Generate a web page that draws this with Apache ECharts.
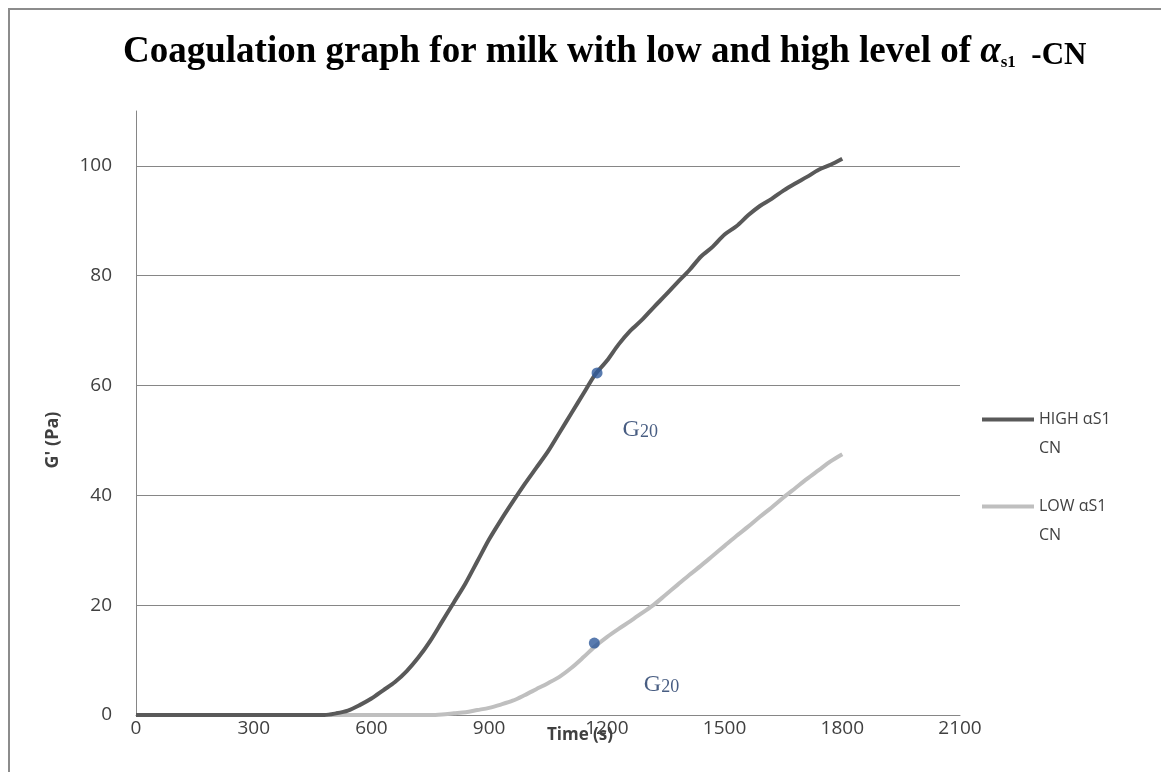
<!DOCTYPE html>
<html>
<head>
<meta charset="utf-8">
<title>Coagulation graph</title>
<script src="https://cdn.jsdelivr.net/npm/echarts@6/dist/echarts.min.js"></script>
<style>
  html, body { margin: 0; padding: 0; background: #ffffff; }
  #chart { width: 1161px; height: 772px; }
</style>
</head>
<body>
<div id="chart"></div>
<script>
// Time axis (s), sampled every 30 s
const timeSec = [
  0, 30, 60, 90, 120, 150, 180, 210, 240, 270, 300, 330, 360, 390, 420, 450, 480,
  510, 540, 570, 600, 630, 660, 690, 720, 750, 780, 810, 840, 870, 900, 930, 960, 990,
  1020, 1050, 1080, 1110, 1140, 1170, 1200, 1230, 1260, 1290, 1320, 1350, 1380, 1410,
  1440, 1470, 1500, 1530, 1560, 1590, 1620, 1650, 1680, 1710, 1740, 1770, 1800
];

// Storage modulus G' (Pa), milk with high αS1-CN
const highG = [
  0, 0, 0, 0, 0, 0, 0, 0, 0, 0, 0, 0, 0, 0, 0, 0, 0,
  0.3, 0.8, 1.8, 3.0, 4.5, 6.0, 8.0, 10.5, 13.5, 17.0, 20.5, 24.0, 28.0, 32.0, 35.5, 38.8, 42.0,
  45.0, 48.0, 51.5, 55.0, 58.5, 62.0, 64.5, 67.5, 70.0, 72.0, 74.3, 76.5, 78.8, 81.0,
  83.5, 85.3, 87.5, 89.0, 91.0, 92.7, 94.0, 95.5, 96.8, 98.0, 99.3, 100.2, 101.3
];

// Storage modulus G' (Pa), milk with low αS1-CN
const lowG = [
  0, 0, 0, 0, 0, 0, 0, 0, 0, 0, 0, 0, 0, 0, 0, 0, 0,
  0, 0, 0, 0, 0, 0, 0, 0, 0, 0.1, 0.3, 0.5, 0.9, 1.3, 1.9, 2.6, 3.6,
  4.7, 5.8, 7.0, 8.6, 10.5, 12.5, 14.2, 15.7, 17.1, 18.6, 20.1, 21.9, 23.7, 25.5,
  27.2, 29.0, 30.8, 32.6, 34.3, 36.1, 37.8, 39.6, 41.3, 43.0, 44.6, 46.2, 47.5
];

// G20 markers: [time (s), G' (Pa)]
const g20High = [1175, 62.3];
const g20Low = [1168, 13.1];

const seriesNames = ['HIGH αS1\nCN', 'LOW αS1\nCN'];
const xTicks = { min: 0, max: 2100, interval: 300 };
const yTicks = { min: 0, max: 110, interval: 20 };

const pair = (xs, ys) => xs.map((x, i) => [x, ys[i]]);

const sansFont = '"Open Sans", "Liberation Sans", sans-serif';
const serifFont = '"Liberation Serif", "DejaVu Serif", serif';

const g20Label = (pos) => ({
  show: true,
  position: pos,
  formatter: '{g|G}{s|20}',
  rich: {
    g: { fontFamily: serifFont, fontSize: 24, color: '#1a3563', lineHeight: 36, verticalAlign: 'bottom' },
    s: { fontFamily: serifFont, fontSize: 18, color: '#1a3563', lineHeight: 17, verticalAlign: 'bottom' }
  }
});

const chart = echarts.init(document.getElementById('chart'), null, { renderer: 'canvas' });

chart.setOption({
  backgroundColor: '#ffffff',
  animation: false,
  title: {
    left: 118,
    top: 22,
    text: '{m|Coagulation graph for milk with low and high level of }{a|α}{s|s1}{c|  -CN}',
    textStyle: {
      rich: {
        m: { fontFamily: serifFont, fontWeight: 'bold', fontSize: 37, color: '#000', lineHeight: 44, verticalAlign: 'bottom' },
        a: { fontFamily: serifFont, fontWeight: 'bold', fontStyle: 'italic', fontSize: 37, color: '#000', lineHeight: 44, verticalAlign: 'bottom' },
        s: { fontFamily: serifFont, fontSize: 17, color: '#000', lineHeight: 30, verticalAlign: 'bottom' },
        c: { fontFamily: serifFont, fontWeight: 'bold', fontSize: 31, color: '#000', lineHeight: 26, verticalAlign: 'bottom' }
      }
    }
  },
  graphic: [{
    type: 'rect',
    silent: true,
    shape: { x: 9, y: 9, width: 1300, height: 900 },
    style: { fill: null, stroke: '#8c8c8c', lineWidth: 2 }
  }],
  legend: {
    orient: 'vertical',
    left: 977,
    top: 371,
    itemWidth: 52,
    itemHeight: 4,
    itemGap: 0,
    icon: 'rect',
    data: seriesNames,
    formatter: (name) => '\n' + name,
    textStyle: {
      fontFamily: sansFont,
      fontSize: 16,
      color: '#404040',
      lineHeight: 29
    }
  },
  grid: { left: 136, right: 201, top: 111, bottom: 57, containLabel: false },
  xAxis: {
    type: 'value',
    min: xTicks.min,
    max: xTicks.max,
    interval: xTicks.interval,
    name: 'Time (s)',
    nameLocation: 'middle',
    nameGap: 12,
    nameMoveOverlap: false,
    nameTextStyle: { fontFamily: sansFont, fontSize: 17, fontWeight: 'bold', color: '#404040', padding: [0, 0, 0, 64] },
    axisLine: { show: true, lineStyle: { color: '#868686', width: 1 } },
    axisTick: { show: false },
    axisLabel: { margin: 4, fontFamily: sansFont, fontSize: 19, color: '#404040', formatter: (v) => String(v) },
    splitLine: { show: false }
  },
  yAxis: {
    type: 'value',
    min: yTicks.min,
    max: yTicks.max,
    interval: yTicks.interval,
    name: "G' (Pa)",
    nameLocation: 'middle',
    nameGap: 74,
    nameMoveOverlap: false,
    nameTextStyle: { fontFamily: sansFont, fontSize: 18, fontWeight: 'bold', color: '#404040', padding: [0, 54, 0, 0] },
    axisLine: { show: true, lineStyle: { color: '#868686', width: 1 } },
    axisTick: { show: false },
    axisLabel: { margin: 24, fontFamily: sansFont, fontSize: 19, color: '#404040', showMaxLabel: false, formatter: (v) => String(v) },
    splitLine: { show: true, showMaxLine: false, lineStyle: { color: '#868686', width: 1 } }
  },
  series: [
    {
      name: seriesNames[0],
      type: 'line',
      data: pair(timeSec, highG),
      showSymbol: false,
      smooth: 0.3,
      lineStyle: { color: '#595959', width: 4 },
      itemStyle: { color: '#595959' },
      z: 3
    },
    {
      name: seriesNames[1],
      type: 'line',
      data: pair(timeSec, lowG),
      showSymbol: false,
      smooth: 0.3,
      lineStyle: { color: '#bfbfbf', width: 4 },
      itemStyle: { color: '#bfbfbf' },
      z: 2
    },
    {
      name: 'G20 high',
      type: 'scatter',
      data: [g20High],
      symbolSize: 11,
      itemStyle: { color: '#2f5a9b' },
      label: g20Label([31, 38]),
      z: 5
    },
    {
      name: 'G20 low',
      type: 'scatter',
      data: [g20Low],
      symbolSize: 11,
      itemStyle: { color: '#2f5a9b' },
      label: g20Label([55, 23]),
      z: 5
    }
  ]
});
</script>
</body>
</html>
